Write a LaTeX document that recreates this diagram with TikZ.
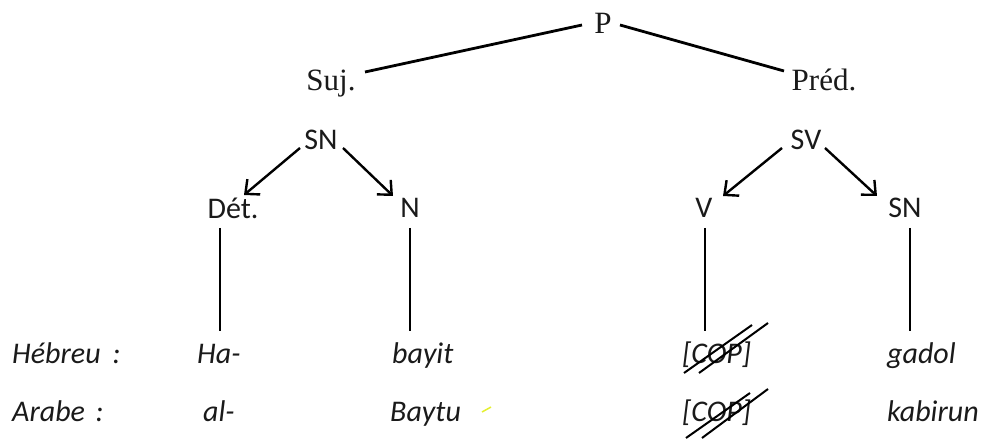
\documentclass[tikz,border=0pt]{standalone}
\usepackage{fontspec}
\setmainfont{Liberation Serif}
\newfontfamily\calfont{Carlito}
\usetikzlibrary{arrows.meta,calc}
\definecolor{txt}{HTML}{1A1A1A}
\definecolor{hl}{HTML}{E4F030}
\begin{document}
\begin{tikzpicture}[x=1pt,y=-1pt,
  tm/.style={font=\fontsize{31}{37}\selectfont, anchor=base, inner sep=3pt, text=txt},
  cb/.style={font=\calfont\fontsize{30}{36}\selectfont, anchor=base, inner sep=3pt, text=txt},
  ci/.style={font=\calfont\itshape\fontsize{30}{35}\selectfont, anchor=base west, inner sep=0pt, text=txt},
  ln/.style={line width=2.8pt},
  vln/.style={line width=2.4pt},
  arr/.style={line width=2.4pt, -{Straight Barb[length=11pt,width=20pt,line width=2.4pt]}},
  strike/.style={line width=2pt},
]
\useasboundingbox (0,0) rectangle (993,443);

% tree nodes
\node[tm] (P) at (603,34) {P};
\node[tm] (Suj) at (331,91) {Suj.};
\node[tm] (Pred) at (824,91) {Préd.};
\node[cb] (SNg) at (321,150) {SN};
\node[cb] (Det) at (233,219) {Dét.};
\node[cb] (N) at (410,218) {N};
\node[cb] (SV) at (806,150) {SV};
\node[cb] (V) at (704,218) {V};
\node[cb] (SNd) at (905,218) {SN};

% words
\node[ci] (heb) at (12,363) {Hébreu\hspace{0.4em}:};
\node[ci] (ha) at (197,363) {Ha-};
\node[ci] (bayit) at (392,363) {bayit};
\node[ci] (cop1) at (682,363) {[COP]};
\node[ci] (gadol) at (887,363) {gadol};
\node[ci] (arb) at (12,421) {Arabe\hspace{0.35em}:};
\node[ci] (al) at (203,421) {al-};
\node[ci] (baytu) at (390,421) {Baytu};
\node[ci] (cop2) at (682,421) {[COP]};
\node[ci] (kab) at (887,421) {kabirun};

% top lines
\draw[ln] ($(P.base)+(-21,-9)$) -- ($(Suj.base)+(34,-19)$);
\draw[ln] ($(P.base)+(17,-9)$) -- ($(Pred.base)+(-40,-20)$);

% arrows
\draw[arr] ($(SNg.base)+(-21,-2)$) -- ($(Det.base)+(11,-24)$);
\draw[arr] ($(SNg.base)+(22,-2)$) -- ($(N.base)+(-17,-22)$);
\draw[arr] ($(SV.base)+(-24,-2)$) -- ($(V.base)+(19,-22)$);
\draw[arr] ($(SV.base)+(19,-2)$) -- ($(SNd.base)+(-28,-22)$);

% vertical lines
\draw[vln] ($(Det.base)+(-13,9)$) -- ($(ha.base west)+(23,-32)$);
\draw[vln] ($(N.base)+(0,10)$) -- ($(bayit.base west)+(18,-32)$);
\draw[vln] ($(V.base)+(1,10)$) -- ($(cop1.base west)+(23,-32)$);
\draw[vln] ($(SNd.base)+(5,10)$) -- ($(gadol.base west)+(23,-32)$);

% strike-outs
\draw[strike] ($(cop1.base west)+(2,10)$) -- ($(cop1.base west)+(70,-38)$);
\draw[strike] ($(cop1.base west)+(17,10)$) -- ($(cop1.base west)+(86,-40)$);
\draw[strike] ($(cop2.base west)+(4,17)$) -- ($(cop2.base west)+(68,-28)$);
\draw[strike] ($(cop2.base west)+(20,17)$) -- ($(cop2.base west)+(86,-32)$);

% small highlight mark
\draw[hl, line width=1.5pt] ($(baytu.base west)+(92,-9)$) -- ($(baytu.base west)+(101,-14)$);
\end{tikzpicture}
\end{document}
